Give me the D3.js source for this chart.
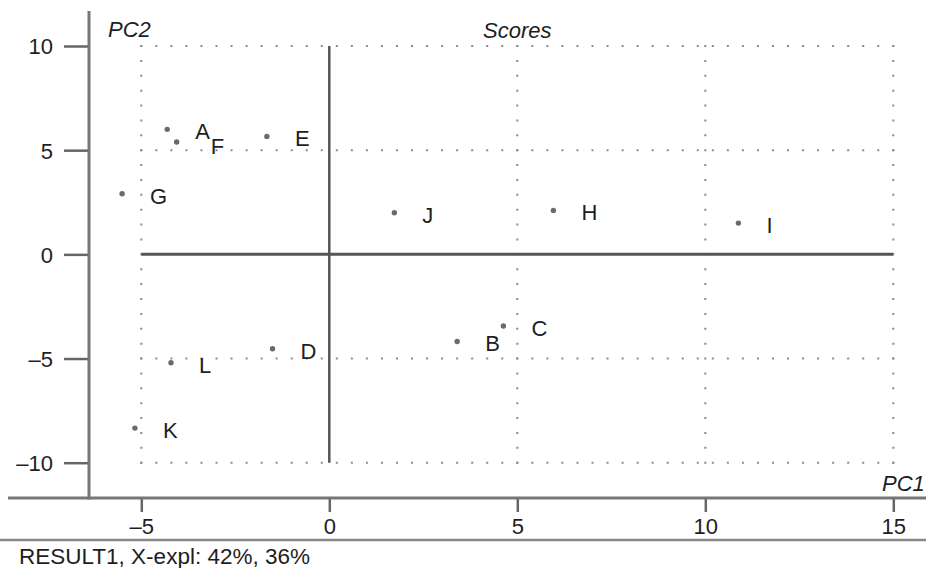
<!DOCTYPE html>
<html>
<head>
<meta charset="utf-8">
<script src="https://cdnjs.cloudflare.com/ajax/libs/d3/7.8.5/d3.min.js"></script>
<style>
  body { margin: 0; background: #fff; }
  svg { display: block; font-family: "Liberation Sans", Arial, sans-serif; }
</style>
</head>
<body>
<svg id="chart"></svg>
<script>
// scores data (PC1, PC2)
var names = ['A', 'B', 'C', 'D', 'E', 'F', 'G', 'H', 'I', 'J', 'K', 'L'];
var pc1 = [-4.31, 3.40, 4.63, -1.51, -1.66, -4.06, -5.51, 5.96, 10.88, 1.73, -5.17, -4.21];
var pc2 = [6.00, -4.18, -3.44, -4.53, 5.66, 5.39, 2.91, 2.11, 1.50, 2.00, -8.34, -5.20];

var xTicks = [-5, 0, 5, 10, 15];
var yTicks = [-10, -5, 0, 5, 10];
var xGrid = [-5, 5, 10, 15];
var yGrid = [-10, -5, 5, 10];

var width = 926, height = 568;
var svg = d3.select('#chart').attr('width', width).attr('height', height);

var x = d3.scaleLinear().domain([-5, 15]).range([141.3, 893.3]);
var y = d3.scaleLinear().domain([-10, 10]).range([462.7, 46]);

var axisX = 89, axisY = 498;
var fmt = function(d) { return d < 0 ? '\u2013' + Math.abs(d) : '' + d; };

// dotted grid, dots about 15px apart
function dotted(len) {
  var n = Math.max(1, Math.round(len / 15));
  return '2,' + (len / n - 2);
}
xGrid.forEach(function(v) {
  var len = y(-10) - y(10);
  svg.append('line')
    .attr('x1', x(v)).attr('x2', x(v))
    .attr('y1', y(10) - 1).attr('y2', y(-10) + 1)
    .attr('stroke', '#8a8a8a').attr('stroke-width', 2)
    .attr('stroke-dasharray', dotted(len));
});
yGrid.forEach(function(v) {
  var len = x(15) - x(-5);
  svg.append('line')
    .attr('x1', x(-5) - 1).attr('x2', x(15) + 1)
    .attr('y1', y(v)).attr('y2', y(v))
    .attr('stroke', '#8a8a8a').attr('stroke-width', 2)
    .attr('stroke-dasharray', dotted(len));
});

// solid zero lines
svg.append('line')
  .attr('x1', x(0)).attr('x2', x(0))
  .attr('y1', y(10)).attr('y2', y(-10))
  .attr('stroke', '#555').attr('stroke-width', 2.5);
svg.append('line')
  .attr('x1', x(-5)).attr('x2', x(15))
  .attr('y1', y(0)).attr('y2', y(0))
  .attr('stroke', '#555').attr('stroke-width', 3);

// y axis
var gy = svg.append('g').attr('transform', 'translate(' + axisX + ',0)');
gy.call(d3.axisLeft(y).tickValues(d3.range(-10, 11)).tickSize(9).tickFormat(''));
gy.call(d3.axisLeft(y).tickValues(yTicks).tickSize(25).tickPadding(11).tickFormat(fmt));
gy.selectAll('.domain').remove();
gy.selectAll('line').attr('stroke', '#666').attr('stroke-width', 2.5);
gy.selectAll('text').attr('font-size', '22px').attr('fill', '#1e1e1e')
  .attr('dy', '0.36em').style('font-family', '"Liberation Sans", Arial, sans-serif');

// x axis
var gx = svg.append('g').attr('transform', 'translate(0,' + axisY + ')');
gx.call(d3.axisBottom(x).tickValues(d3.range(-5, 16)).tickSize(8).tickFormat(''));
gx.call(d3.axisBottom(x).tickValues(xTicks).tickSize(14).tickFormat(fmt));
gx.selectAll('.domain').remove();
gx.selectAll('line').attr('stroke', '#666').attr('stroke-width', 2.5);
gx.selectAll('text').attr('font-size', '22px').attr('fill', '#1e1e1e')
  .attr('y', 36).attr('dy', 0).style('font-family', '"Liberation Sans", Arial, sans-serif');

// axis frame lines
svg.append('line')
  .attr('x1', axisX).attr('x2', axisX).attr('y1', 11).attr('y2', axisY + 1.5)
  .attr('stroke', '#777').attr('stroke-width', 3);
svg.append('line')
  .attr('x1', 8).attr('x2', width).attr('y1', axisY).attr('y2', axisY)
  .attr('stroke', '#777').attr('stroke-width', 3);
svg.append('line')
  .attr('x1', 0).attr('x2', width).attr('y1', 540).attr('y2', 540)
  .attr('stroke', '#888').attr('stroke-width', 2.5);

// points and labels
var pts = names.map(function(n, i) { return { name: n, x: pc1[i], y: pc2[i] }; });
svg.selectAll('circle.pt').data(pts).enter().append('circle')
  .attr('class', 'pt')
  .attr('cx', function(d) { return x(d.x); })
  .attr('cy', function(d) { return y(d.y); })
  .attr('r', 2.7)
  .attr('fill', '#6a6a6a');
svg.selectAll('text.lbl').data(pts).enter().append('text')
  .attr('class', 'lbl')
  // F sits right under A, nudge it a bit so they don't collide
  .attr('x', function(d) { return x(d.x) + (d.name == 'F' ? 34 : 28); })
  .attr('y', function(d) { return y(d.y) + (d.name == 'F' ? 12 : 10); })
  .attr('font-size', '22px')
  .attr('fill', '#1e1e1e')
  .text(function(d) { return d.name; });

// titles
svg.append('text').attr('x', 108).attr('y', 37).attr('font-size', '22px')
  .attr('font-style', 'italic').attr('fill', '#1e1e1e').text('PC2');
svg.append('text').attr('x', 483).attr('y', 38).attr('font-size', '22px')
  .attr('font-style', 'italic').attr('fill', '#1e1e1e').text('Scores');
svg.append('text').attr('x', 882).attr('y', 491).attr('font-size', '22px')
  .attr('font-style', 'italic').attr('fill', '#1e1e1e').text('PC1');
svg.append('text').attr('x', 19).attr('y', 564).attr('font-size', '22.5px')
  .attr('fill', '#1e1e1e').text('RESULT1, X-expl: 42%, 36%');
</script>
</body>
</html>
